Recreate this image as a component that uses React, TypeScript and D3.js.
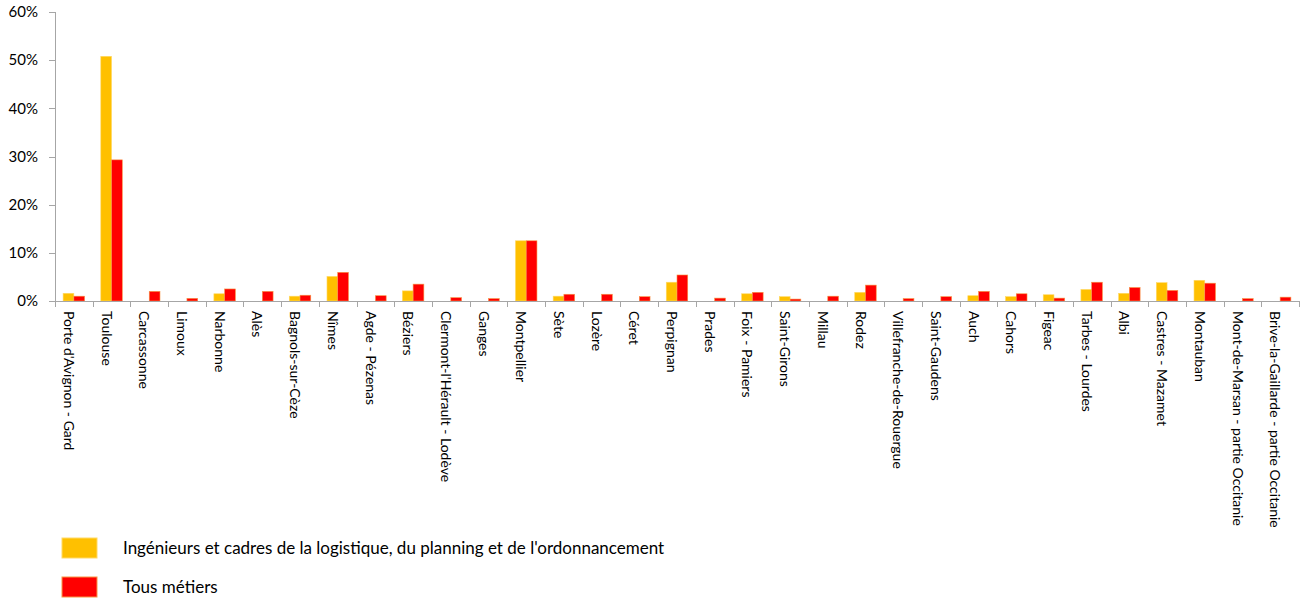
import { useMemo } from "react";
import * as d3 from "d3";

const categories = [
  "Porte d'Avignon - Gard",
  "Toulouse",
  "Carcassonne",
  "Limoux",
  "Narbonne",
  "Alès",
  "Bagnols-sur-Cèze",
  "Nîmes",
  "Agde - Pézenas",
  "Béziers",
  "Clermont-l'Hérault - Lodève",
  "Ganges",
  "Montpellier",
  "Sète",
  "Lozère",
  "Céret",
  "Perpignan",
  "Prades",
  "Foix - Pamiers",
  "Saint-Girons",
  "Millau",
  "Rodez",
  "Villefranche-de-Rouergue",
  "Saint-Gaudens",
  "Auch",
  "Cahors",
  "Figeac",
  "Tarbes - Lourdes",
  "Albi",
  "Castres - Mazamet",
  "Montauban",
  "Mont-de-Marsan - partie Occitanie",
  "Brive-la-Gaillarde - partie Occitanie",
];

// % share
const ingenieurs = [
  1.6, 50.8, 0, 0, 1.5, 0, 1.0, 5.1, 0, 2.1, 0, 0, 12.5, 1.0, 0, 0, 3.9, 0,
  1.5, 0.9, 0, 1.8, 0, 0, 1.1, 0.9, 1.3, 2.4, 1.6, 3.8, 4.3, 0, 0,
];
const tousMetiers = [
  1.0, 29.3, 2.0, 0.55, 2.5, 2.0, 1.2, 5.95, 1.1, 3.5, 0.7, 0.5, 12.5, 1.4,
  1.4, 0.9, 5.4, 0.6, 1.8, 0.4, 1.0, 3.3, 0.5, 0.9, 2.0, 1.5, 0.6, 3.9, 2.8,
  2.2, 3.7, 0.5, 0.8,
];
const yTicks = [0, 10, 20, 30, 40, 50, 60];

const seriesNames = [
  "Ingénieurs et cadres de la logistique, du planning et de l'ordonnancement",
  "Tous métiers",
];
const colors = ["#FFC000", "#FF0000"];
const borders = ["#FFD966", "#F79646"];

const W = 1306;
const H = 601;
const font = "Lato, 'Open Sans', sans-serif";

export default function App() {
  const left = 55;
  const right = 1299;
  const top = 12;
  const bottom = 301;

  const x = useMemo(
    () => d3.scaleBand<string>().domain(categories).range([left, right]).paddingInner(0).paddingOuter(0),
    [],
  );
  const y = useMemo(() => d3.scaleLinear().domain([0, 60]).range([bottom, top]), []);
  const barW = x.bandwidth() * 0.285;

  const series = [ingenieurs, tousMetiers];

  return (
    <svg
      width={W}
      height={H}
      style={{ position: "absolute", left: 0, top: 0, background: "#fff", fontFamily: font }}
    >
      {/* y axis */}
      <line x1={left + 0.5} x2={left + 0.5} y1={top} y2={bottom} stroke="#A6A6A6" />
      {yTicks.map((t) => (
        <g key={t}>
          <line x1={left - 6} x2={left} y1={Math.round(y(t)) + 0.5} y2={Math.round(y(t)) + 0.5} stroke="#A6A6A6" />
          <text x={38} y={y(t)} dy="0.35em" textAnchor="end" fontSize={15} fill="#000">
            {t}%
          </text>
        </g>
      ))}

      {/* bars */}
      {series.map((vals, si) =>
        categories.map((c, i) => {
          const v = vals[i];
          if (!v) return null;
          const cx = (x(c) ?? 0) + x.bandwidth() / 2;
          const bx = si === 0 ? cx - barW : cx;
          return (
            <rect
              key={`${si}-${i}`}
              x={bx}
              y={y(v)}
              width={barW}
              height={bottom - y(v)}
              fill={colors[si]}
              stroke={borders[si]}
              strokeWidth={0.6}
            />
          );
        }),
      )}

      {/* x axis */}
      <line x1={left} x2={right} y1={bottom + 0.5} y2={bottom + 0.5} stroke="#A6A6A6" />
      {categories.map((c, i) => (
        <line
          key={`t${i}`}
          x1={Math.round(x(c) ?? 0) + 0.5}
          x2={Math.round(x(c) ?? 0) + 0.5}
          y1={bottom}
          y2={bottom + 6}
          stroke="#A6A6A6"
        />
      ))}
      <line x1={right + 0.5} x2={right + 0.5} y1={bottom} y2={bottom + 6} stroke="#A6A6A6" />
      {categories.map((c) => {
        const cx = (x(c) ?? 0) + x.bandwidth() / 2 - 5;
        return (
          <text
            key={c}
            transform={`translate(${cx},311) rotate(90)`}
            dy="0.35em"
            fontSize={14}
            fill="#000"
          >
            {c}
          </text>
        );
      })}

      {/* legend */}
      {seriesNames.map((n, i) => (
        <g key={n} transform={`translate(0,${538 + i * 39})`}>
          <rect x={62} y={0} width={35} height={20} fill={colors[i]} stroke={borders[i]} strokeWidth={1} />
          <text x={123} y={10} dy="0.35em" fontSize={17} fill="#000">
            {n}
          </text>
        </g>
      ))}
    </svg>
  );
}
